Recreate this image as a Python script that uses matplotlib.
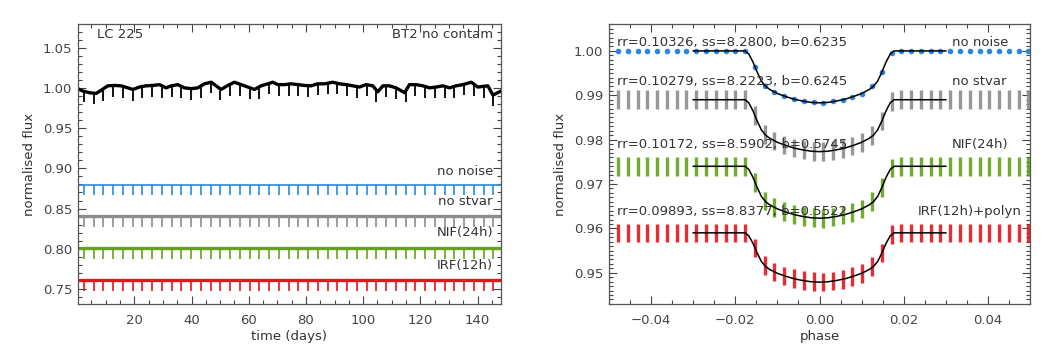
import numpy as np
import matplotlib.pyplot as plt
from matplotlib.ticker import MultipleLocator

plt.rcParams['font.family'] = 'DejaVu Sans'
plt.rcParams['font.size'] = 9.5
plt.rcParams['text.color'] = '#333333'
plt.rcParams['axes.labelcolor'] = '#333333'
plt.rcParams['xtick.color'] = '#444444'
plt.rcParams['ytick.color'] = '#444444'
plt.rcParams['axes.edgecolor'] = '#555555'

# ---------------- left panel: light curves against time ----------------
transit_time = [2.40, 5.81, 9.21, 12.62, 16.03, 19.44, 22.84, 26.25, 29.66, 33.06,
                36.47, 39.88, 43.28, 46.69, 50.10, 53.51, 56.91, 60.32, 63.73, 67.13,
                70.54, 73.95, 77.35, 80.76, 84.17, 87.58, 90.98, 94.39, 97.80, 101.20,
                104.61, 108.02, 111.42, 114.83, 118.24, 121.65, 125.05, 128.46, 131.87,
                135.27, 138.68, 142.09, 145.49]

# black curve (stellar variability) read every ~2.3 days
black_t = [0.2, 2.0, 4.3, 6.6, 8.4, 10.7, 13.0, 15.4, 17.7, 19.5, 21.8, 24.1, 26.5,
           28.8, 31.1, 32.9, 35.2, 37.5, 39.9, 42.2, 44.5, 46.9, 48.6, 50.3, 52.7,
           55.0, 57.3, 59.7, 62.0, 64.3, 66.7, 68.4, 70.2, 72.5, 74.8, 77.2, 79.5,
           81.8, 84.1, 86.5, 89.4, 91.7, 94.1, 96.4, 98.7, 101.0, 103.4, 105.1,
           106.9, 109.2, 111.5, 114.5, 116.2, 118.5, 120.9, 123.2, 125.5, 127.9,
           130.2, 132.5, 134.9, 137.8, 140.1, 143.6, 145.4, 148.2]
black_flux = [0.999, 0.996, 0.994, 0.993, 0.997, 1.0025, 1.003, 1.0025, 1.000, 0.998,
              1.001, 1.0025, 1.003, 1.004, 1.000, 1.0025, 1.004, 1.000, 0.999, 1.000,
              1.005, 1.007, 1.0025, 0.998, 1.003, 1.007, 1.004, 1.001, 0.998, 1.0025,
              1.005, 1.007, 1.004, 1.004, 1.005, 1.004, 1.003, 1.0025, 1.005, 1.005,
              1.007, 1.005, 1.004, 1.0025, 1.001, 1.004, 1.0025, 0.995, 1.0025,
              1.0025, 1.000, 0.994, 1.004, 1.004, 1.0025, 1.000, 1.001, 1.0025,
              1.000, 1.0025, 1.004, 1.007, 1.001, 1.0025, 0.991, 0.996]
# level of the black curve at each transit
black_dip_top = [0.996, 0.994, 0.998, 1.003, 1.002, 0.998, 1.002, 1.003, 1.002, 1.0025,
                 1.002, 0.999, 1.002, 1.007, 0.999, 1.004, 1.004, 1.000, 1.000, 1.006,
                 1.004, 1.004, 1.004, 1.003, 1.005, 1.006, 1.006, 1.004, 1.002, 1.004,
                 0.997, 1.0025, 1.000, 0.996, 1.004, 1.002, 1.001, 1.002, 1.002, 1.005,
                 1.004, 1.002, 0.992]
black_depth = 0.014

lc_names = ['no noise', 'no stvar', 'NIF(24h)', 'IRF(12h)']
lc_level = [0.879, 0.8405, 0.8005, 0.7615]
lc_depth = [0.0118, 0.0135, 0.0135, 0.0135]
lc_colors = ['#2a86e0', '#8c8c8c', '#62a21c', '#e5161d']

# ---------------- right panel: phase folded transits ----------------
fold_phase = [-0.0478, -0.0455, -0.0432, -0.0409, -0.0385, -0.0362, -0.0339, -0.0316,
              -0.0293, -0.0269, -0.0246, -0.0223, -0.0200, -0.0177, -0.0153, -0.0130,
              -0.0107, -0.0084, -0.0061, -0.0037, -0.0014, 0.0009, 0.0032, 0.0055,
              0.0078, 0.0102, 0.0125, 0.0148, 0.0171, 0.0194, 0.0218, 0.0241, 0.0264,
              0.0287, 0.0310, 0.0334, 0.0357, 0.0380, 0.0403, 0.0426, 0.0450, 0.0473,
              0.0496]
fold_drop = [0, 0, 0, 0, 0, 0, 0, 0, 0, 0, 0, 0, 0, 0.0, 0.0036, 0.0078, 0.0093,
             0.0102, 0.0109, 0.0113, 0.0116, 0.0117, 0.0114, 0.0110, 0.0104, 0.0096,
             0.0080, 0.0048, 0.0004, 0, 0, 0, 0, 0, 0, 0, 0, 0, 0, 0, 0, 0, 0]

model_phase = [-0.0300, -0.0177, -0.0168, -0.0158, -0.0148, -0.0138, -0.0128, -0.0118,
               -0.0100, -0.0080, -0.0060, -0.0040, -0.0020, 0.0, 0.0020, 0.0040, 0.0060,
               0.0080, 0.0100, 0.0118, 0.0128, 0.0138, 0.0148, 0.0158, 0.0168, 0.0177,
               0.0300]
model_drop = [0, 0, 0.0007, 0.0025, 0.0048, 0.0068, 0.0080, 0.0087, 0.0096, 0.0103,
              0.0109, 0.0113, 0.0116, 0.0117, 0.0116, 0.0113, 0.0109, 0.0103, 0.0096,
              0.0087, 0.0080, 0.0068, 0.0048, 0.0025, 0.0007, 0, 0]

fold_names = ['no noise', 'no stvar', 'NIF(24h)', 'IRF(12h)+polyn']
fold_base = [1.000, 0.989, 0.974, 0.959]
fold_scale = [1.0, 1.0, 1.0, 0.95]
fold_spread = [0.0, 0.0021, 0.0021, 0.0021]
fit_text = ['rr=0.10326, ss=8.2800, b=0.6235',
            'rr=0.10279, ss=8.2223, b=0.6245',
            'rr=0.10172, ss=8.5902, b=0.5745',
            'rr=0.09893, ss=8.8377, b=0.5522']
fit_text_y = [1.0020, 0.9931, 0.9790, 0.9638]
name_x = [0.0448, 0.0445, 0.0449, 0.0480]


def style_axes(ax):
    ax.tick_params(which='both', direction='in', top=True, right=True, width=0.8)
    ax.tick_params(which='major', length=6)
    ax.tick_params(which='minor', length=3)
    ax.tick_params(axis='x', pad=7)
    ax.tick_params(axis='y', pad=4)
    for sp in ax.spines.values():
        sp.set_linewidth(0.9)


fig = plt.figure(figsize=(10.63, 3.54), dpi=100)
ax1 = fig.add_axes([0.0731, 0.1404, 0.3982, 0.791])
ax2 = fig.add_axes([0.5729, 0.1404, 0.3961, 0.791])

# left panel
ax1.plot(black_t, black_flux, color='k', lw=2.4, solid_joinstyle='round')
ax1.vlines(transit_time, np.array(black_dip_top) - black_depth, black_dip_top,
           color='k', lw=1.3)
for name, lev, dep, col in zip(lc_names, lc_level, lc_depth, lc_colors):
    lw = 1.2 if name == 'no noise' else 2.4
    ax1.axhline(lev, color=col, lw=lw)
    ax1.vlines(transit_time, lev - dep, lev, color=col, lw=1.2)

ax1.set_xlim(0.2, 148.2)
ax1.set_ylim(0.731, 1.079)
ax1.xaxis.set_major_locator(MultipleLocator(20))
ax1.xaxis.set_minor_locator(MultipleLocator(5))
ax1.yaxis.set_major_locator(MultipleLocator(0.05))
ax1.yaxis.set_minor_locator(MultipleLocator(0.01))
ax1.yaxis.set_major_formatter(lambda v, p: f'{v:.2f}')
style_axes(ax1)
ax1.set_xlabel('time (days)', labelpad=2)
ax1.set_ylabel('normalised flux')
ax1.yaxis.set_label_coords(-0.098, 0.5)

ax1.text(6.9, 1.0658, 'LC 225', ha='left', va='center')
ax1.text(145.4, 1.0658, 'BT2 no contam', ha='right', va='center')
lc_label_y = [0.8963, 0.8593, 0.8201, 0.7798]
for name, y in zip(lc_names, lc_label_y):
    ax1.text(145.4, y, name, ha='right', va='center')

# right panel
for i in range(4):
    base = fold_base[i]
    col = lc_colors[i]
    pts = base - fold_scale[i] * np.array(fold_drop)
    if fold_spread[i] == 0:
        ax2.plot(fold_phase, pts, 'o', color=col, ms=4.0, mec='none', zorder=2)
    else:
        ax2.vlines(fold_phase, pts - fold_spread[i], pts + fold_spread[i], color=col,
                   lw=2.4, alpha=0.9, zorder=2)
    ax2.plot(model_phase, base - fold_scale[i] * np.array(model_drop), color='k',
             lw=1.1, zorder=3)
    ax2.text(-0.0482, fit_text_y[i], fit_text[i], ha='left', va='center', zorder=4)
    ax2.text(name_x[i], fit_text_y[i], fold_names[i], ha='right', va='center', zorder=4)

ax2.set_xlim(-0.05, 0.05)
ax2.set_ylim(0.9429, 1.006)
ax2.xaxis.set_major_locator(MultipleLocator(0.02))
ax2.xaxis.set_minor_locator(MultipleLocator(0.005))
ax2.yaxis.set_major_locator(MultipleLocator(0.01))
ax2.yaxis.set_minor_locator(MultipleLocator(0.001))
ax2.xaxis.set_major_formatter(lambda v, p: f'{v:.2f}'.replace('-', '\u2212'))
ax2.yaxis.set_major_formatter(lambda v, p: f'{v:.2f}')
style_axes(ax2)
ax2.set_xlabel('phase', labelpad=2)
ax2.set_ylabel('normalised flux')
ax2.yaxis.set_label_coords(-0.10, 0.5)

fig.savefig('out.png', dpi=100)
